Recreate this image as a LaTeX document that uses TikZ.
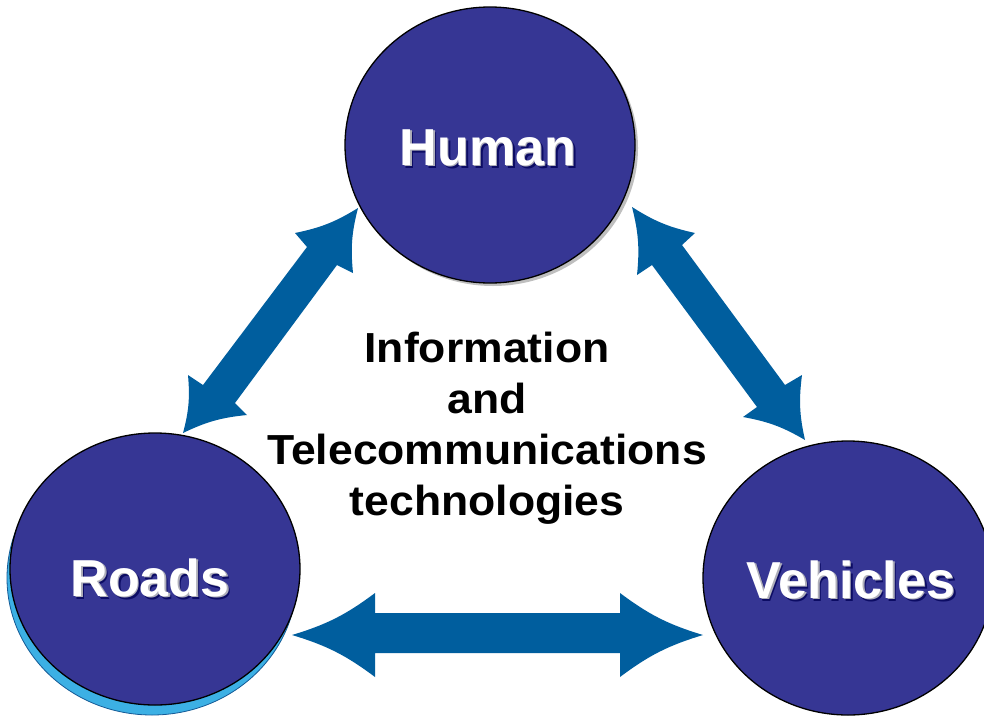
\documentclass[tikz,border=0pt]{standalone}
\usepackage{fontspec}
\setmainfont{Liberation Sans}
\usetikzlibrary{shapes.geometric}
\definecolor{circblue}{RGB}{54,54,148}
\definecolor{arrblue}{RGB}{0,94,158}
\definecolor{rimcyan}{RGB}{60,176,228}
\definecolor{rimedge}{RGB}{20,90,150}
\definecolor{shadownavy}{RGB}{12,12,100}
\definecolor{embossgray}{RGB}{175,175,185}
\begin{document}
\begin{tikzpicture}[x=1pt,y=-1pt,
  circ/.style={ellipse, draw=black, line width=1.3pt, fill=circblue, inner sep=0pt,
               minimum width=290pt, minimum height=276pt},
  lblfont/.style={font=\fontsize{52}{60}\selectfont\bfseries, anchor=base, inner sep=0pt},
  lblshadow/.style={lblfont, text=shadownavy},
  lblgray/.style={lblfont, text=embossgray},
  lbltop/.style={lblfont, text=white},
  blockarrow/.style={fill=arrblue, draw=none},
  hd/.style={bend right=10},
  centertext/.style={font=\fontsize{42}{51}\selectfont\bfseries, align=center, inner sep=0pt, text=black}
]
\useasboundingbox (0,0) rectangle (984,717);
\fill[white] (0,0) rectangle (984,717);
\clip (0,0) rectangle (984,717);

% block arrows
\fill[blockarrow] (358,208) to[hd] (353,273) -- (337,265) -- (235,403) -- (247,415)
  to[hd] (183,433) to[hd] (188,375) -- (203,385) -- (307,247) -- (295,233) to[hd] (358,208) -- cycle;
\fill[blockarrow] (632,207) to[hd] (695,233) -- (682,245) -- (785,385) -- (802,375)
  to[hd] (805,440) to[hd] (743,417) -- (757,407) -- (652,265) -- (637,275) to[hd] (632,207) -- cycle;
\fill[blockarrow] (292,635) to[hd] (375,593) -- (375,613) -- (620,613) -- (620,593)
  to[hd] (703,635) to[hd] (620,677) -- (620,653) -- (375,653) -- (375,677) to[hd] (292,635) -- cycle;

% circles
\node[circ, draw=none, fill=black!25] (humanshade) at (493,148) {};
\node[circ] (human) at (490,145) {};
\node[circ, fill=rimcyan, draw=rimedge, line width=0.8pt, minimum height=274pt] (roadsrim) at (152,578) {};
\node[circ, minimum height=272pt] (roads) at (155,569) {};
\node[circ, minimum height=274pt] (vehicles) at (848,578) {};

% labels
\node[lblshadow] (humansh) at (491,168) {Human};
\node[lblgray] (humangr) at (489.5,166.5) {Human};
\node[lbltop] (humanlbl) at (488,165) {Human};
\node[lblshadow] (roadssh) at (153,599) {Roads};
\node[lblgray] (roadsgr) at (151.5,597.5) {Roads};
\node[lbltop] (roadslbl) at (150,596) {Roads};
\node[lblshadow] (vehsh) at (854,601) {Vehicles};
\node[lblgray] (vehgr) at (852.5,599.5) {Vehicles};
\node[lbltop] (vehlbl) at (851,598) {Vehicles};

% center text
\node[centertext] (ict) at (487,428) {\scalebox{1.06}[1]{Information}\\\scalebox{1.06}[1]{and}\\\scalebox{1.06}[1]{Telecommunications}\\\scalebox{1.06}[1]{technologies}};
\end{tikzpicture}
\end{document}
